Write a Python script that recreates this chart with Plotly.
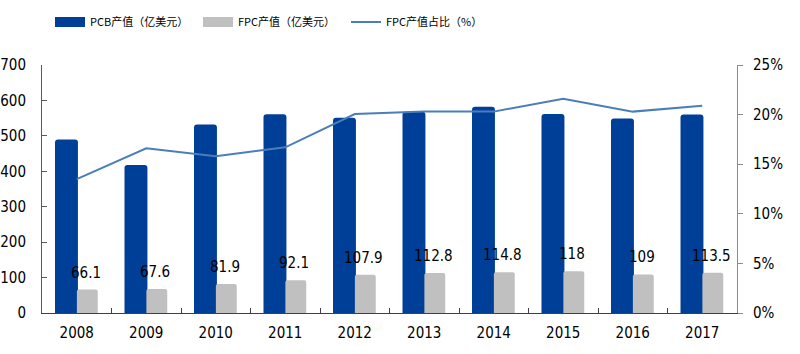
import plotly.graph_objects as go

years = ["2008", "2009", "2010", "2011", "2012", "2013", "2014", "2015", "2016", "2017"]
pcb = [490, 418, 532, 561, 551, 568, 582, 562, 549, 560]
fpc = [66.1, 67.6, 81.9, 92.1, 107.9, 112.8, 114.8, 118, 109, 113.5]
fpc_share = [0.135, 0.166, 0.158, 0.167, 0.2005, 0.203, 0.203, 0.216, 0.203, 0.209]
fpc_labels = ["66.1", "67.6", "81.9", "92.1", "107.9", "112.8", "114.8", "118", "109", "113.5"]

BLUE = "#003f98"
GREY = "#c0c0c0"
LINE = "#4a7ebb"
FONT = "DejaVu Sans Condensed"
CJK = "Noto Sans CJK SC"

fig = go.Figure()
fig.add_trace(go.Bar(
    x=years, y=pcb, name="PCB产值（亿美元）", showlegend=False,
    marker=dict(color=BLUE, cornerradius=3, line=dict(width=0)),
    offset=-0.313, width=0.33,
))
fig.add_trace(go.Bar(
    x=years, y=fpc, name="FPC产值（亿美元）", showlegend=False,
    marker=dict(color=GREY, cornerradius=2, line=dict(width=0)),
    offset=0.002, width=0.30,
))
fig.add_trace(go.Scatter(
    x=years, y=fpc_share, name="FPC产值占比（%）", yaxis="y2",
    mode="lines", line=dict(color=LINE, width=2), showlegend=False,
))
# legend entries (wide swatches like the original)
fig.add_trace(go.Scatter(x=[years[0]], y=[None], mode="lines", name="PCB产值（亿美元）",
                         line=dict(color=BLUE, width=11), hoverinfo="skip"))
fig.add_trace(go.Scatter(x=[years[0]], y=[None], mode="lines", name="FPC产值（亿美元）",
                         line=dict(color=GREY, width=11), hoverinfo="skip"))
fig.add_trace(go.Scatter(x=[years[0]], y=[None], mode="lines", name="FPC产值占比（%）",
                         line=dict(color=LINE, width=2), hoverinfo="skip"))

# data labels above the FPC bars (x given as category index)
for i, (v, lab) in enumerate(zip(fpc, fpc_labels)):
    fig.add_annotation(
        x=i, y=v, xref="x", yref="y", text=lab, showarrow=False,
        xshift=9, yshift=17, yanchor="middle", xanchor="center",
        font=dict(family=FONT, size=15, color="#000000"),
    )

fig.update_layout(
    width=800, height=354,
    margin=dict(l=42, r=63, t=65, b=41, autoexpand=False),
    paper_bgcolor="white", plot_bgcolor="white",
    barmode="overlay",
    showlegend=True,
    legend=dict(
        orientation="h", xref="container", yref="container",
        x=50 / 800, y=1 - 22 / 354, xanchor="left", yanchor="middle",
        font=dict(family=CJK, size=11, color="#000000"),
        entrywidth=103, entrywidthmode="pixels",
        itemwidth=30, bgcolor="rgba(0,0,0,0)",
    ),
    xaxis=dict(
        type="category", categoryorder="array", categoryarray=years,
        range=[-0.5, 9.5], showgrid=False, automargin=False,
        showline=True, linecolor="#404040", linewidth=1,
        ticks="inside", ticklen=5, tickcolor="#404040", tickson="boundaries",
        tickangle=0, ticklabelstandoff=6,
        tickfont=dict(family=FONT, size=15, color="#000000"),
    ),
    yaxis=dict(
        range=[0, 700], dtick=100, showgrid=False, automargin=False,
        showline=True, linecolor="#595959", linewidth=1,
        ticks="inside", ticklen=5, tickcolor="#595959",
        ticklabelstandoff=12,
        tickfont=dict(family=FONT, size=15, color="#000000"),
        zeroline=False,
    ),
    yaxis2=dict(
        overlaying="y", side="right", automargin=False,
        range=[0, 0.25], dtick=0.05, tickformat=".0%", showgrid=False,
        showline=True, linecolor="#8c8c8c", linewidth=1,
        ticks="outside", ticklen=5, tickcolor="#8c8c8c",
        ticklabelstandoff=7,
        tickfont=dict(family=FONT, size=15, color="#000000"),
        zeroline=False,
    ),
)

fig.write_html("out.html")
